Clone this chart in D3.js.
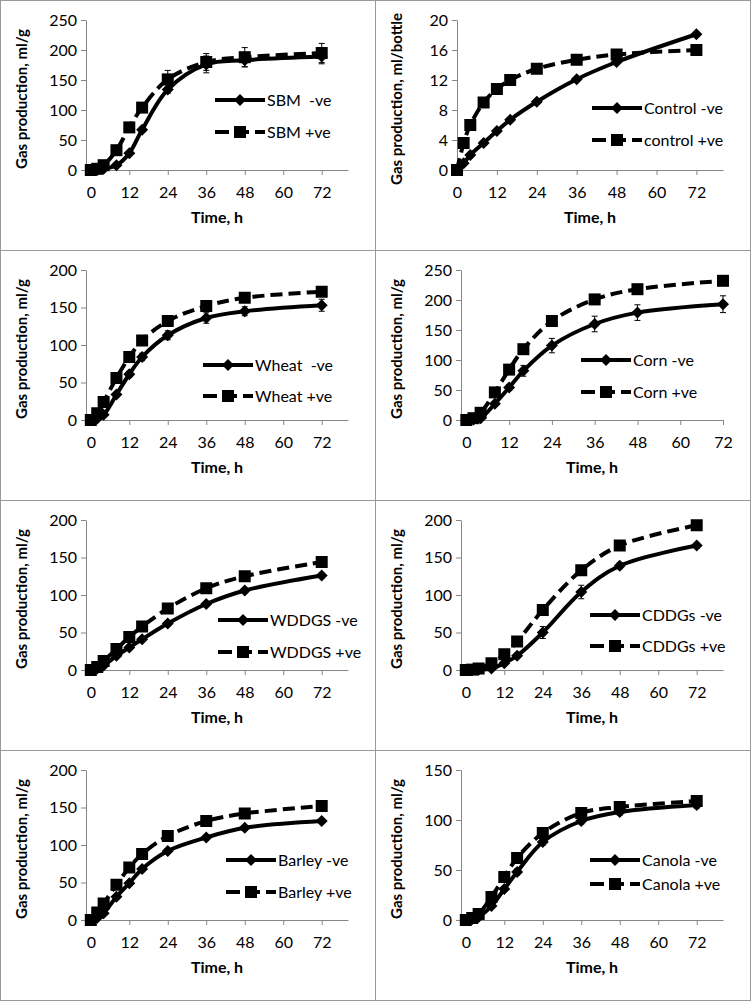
<!DOCTYPE html>
<html>
<head>
<meta charset="utf-8">
<script src="https://cdn.jsdelivr.net/npm/d3@7"></script>
<style>
  body { margin: 0; background: #fff; }
  svg text { font-family: Lato, "Open Sans", sans-serif; fill: #000; }
</style>
</head>
<body>
<svg id="chart" width="751" height="1001"></svg>
<script>
// sampling times (h) and axis ticks
const hours = [0, 2, 4, 8, 12, 16, 24, 36, 48, 72];
const xTicks = [0, 12, 24, 36, 48, 60, 72];

// soybean meal
const sbmNeg = [0, 0, 2, 8, 28, 67, 134, 176, 183, 189];
const sbmPos = [0, 2, 8, 33, 71, 104, 151, 180, 188, 195];
const sbmNegErr = [0, 0, 0, 1, 3, 4, 6, 14, 11, 12];
const sbmPosErr = [0, 0, 1, 3, 5, 6, 15, 14, 16, 16];

// control, ml/bottle
const controlNeg = [0, 0.9, 2.0, 3.6, 5.2, 6.7, 9.1, 12.1, 14.4, 18.1];
const controlPos = [0, 3.6, 6.0, 9.0, 10.8, 12.0, 13.5, 14.7, 15.4, 16.0];
const controlNegErr = [0, 0, 0, 0, 0, 0, 0, 0, 0, 0];
const controlPosErr = [0, 0, 0, 0, 0, 0, 0, 0, 0, 0];

// wheat
const wheatNeg = [0, 2, 7, 34, 61, 84, 113, 136, 145, 153];
const wheatPos = [0, 9, 24, 56, 84, 106, 132, 152, 163, 171];
const wheatNegErr = [0, 0, 1, 3, 4, 5, 6, 7, 6, 8];
const wheatPosErr = [0, 0, 1, 2, 3, 3, 4, 4, 4, 5];

// corn
const cornNeg = [0, 1, 3, 27, 54, 82, 124, 160, 179, 193];
const cornPos = [0, 3, 12, 46, 84, 118, 165, 201, 218, 232];
const cornNegErr = [0, 0, 1, 3, 5, 9, 12, 13, 13, 14];
const cornPosErr = [0, 0, 1, 3, 4, 4, 5, 5, 4, 5];

// wheat DDGS
const wddgsNeg = [0, 2, 6, 19, 30, 41, 62, 88, 106, 126];
const wddgsPos = [0, 4, 12, 28, 44, 58, 82, 109, 125, 144];
const wddgsNegErr = [0, 0, 1, 2, 2, 3, 3, 3, 3, 3];
const wddgsPosErr = [0, 0, 1, 2, 2, 3, 3, 3, 3, 3];

// corn DDGS
const cddgsNeg = [0, 0, 0.5, 2, 9, 19, 50, 104, 139, 166];
const cddgsPos = [0, 0.5, 2, 9, 21, 38, 80, 133, 166, 193];
const cddgsNegErr = [0, 0, 0, 1, 2, 3, 8, 9, 4, 3];
const cddgsPosErr = [0, 0, 0, 1, 2, 3, 4, 4, 4, 4];

// barley
const barleyNeg = [0, 3, 9, 31, 49, 68, 92, 110, 123, 132];
const barleyPos = [0, 10, 22, 47, 70, 88, 112, 132, 142, 152];
const barleyNegErr = [0, 0, 1, 2, 3, 3, 3, 3, 3, 3];
const barleyPosErr = [0, 0, 1, 2, 3, 3, 3, 3, 3, 3];

// canola
const canolaNeg = [0, 1, 3, 14, 31, 48, 78, 99, 108, 115];
const canolaPos = [0, 2, 6, 23, 43, 62, 87, 107, 113, 119];
const canolaNegErr = [0, 0, 1, 2, 2, 3, 3, 3, 3, 3];
const canolaPosErr = [0, 0, 1, 2, 2, 3, 3, 3, 3, 3];

// panel text and y ticks
const negLabels = ["SBM  -ve", "Control -ve", "Wheat  -ve", "Corn -ve", "WDDGS -ve", "CDDGs -ve", "Barley -ve", "Canola -ve"];
const posLabels = ["SBM +ve", "control +ve", "Wheat +ve", "Corn +ve", "WDDGS +ve", "CDDGs +ve", "Barley +ve", "Canola +ve"];
const yTitles = ["Gas production, ml/g", "Gas production, ml/bottle", "Gas production, ml/g", "Gas production, ml/g",
                 "Gas production, ml/g", "Gas production, ml/g", "Gas production, ml/g", "Gas production, ml/g"];
const yTicksList = [
  [0, 50, 100, 150, 200, 250],
  [0, 4, 8, 12, 16, 20],
  [0, 50, 100, 150, 200],
  [0, 50, 100, 150, 200, 250],
  [0, 50, 100, 150, 200],
  [0, 50, 100, 150, 200],
  [0, 50, 100, 150, 200],
  [0, 50, 100, 150]
];
const negSeries = [sbmNeg, controlNeg, wheatNeg, cornNeg, wddgsNeg, cddgsNeg, barleyNeg, canolaNeg];
const posSeries = [sbmPos, controlPos, wheatPos, cornPos, wddgsPos, cddgsPos, barleyPos, canolaPos];
const negErrs = [sbmNegErr, controlNegErr, wheatNegErr, cornNegErr, wddgsNegErr, cddgsNegErr, barleyNegErr, canolaNegErr];
const posErrs = [sbmPosErr, controlPosErr, wheatPosErr, cornPosErr, wddgsPosErr, cddgsPosErr, barleyPosErr, canolaPosErr];

// layout: x domain, y-axis left edge, legend left / rows
const layout = [
  {xDom: [-1.5, 80.2], left: 86, lx: 215, ly: [100, 132]},
  {xDom: [0, 80],      left: 82, lx: 217, ly: [108, 140]},
  {xDom: [-1.5, 80.2], left: 86, lx: 203, ly: [115, 146]},
  {xDom: [-1.5, 72],   left: 86, lx: 206, ly: [110, 142]},
  {xDom: [-1.5, 80.2], left: 86, lx: 218, ly: [120, 152]},
  {xDom: [-1.5, 80.2], left: 86, lx: 215, ly: [115, 146]},
  {xDom: [-1.5, 80.2], left: 86, lx: 226, ly: [110, 142]},
  {xDom: [-1.5, 80.2], left: 86, lx: 215, ly: [110, 134]}
];

const svg = d3.select("#chart");
const W = 375, H = 250;
const plotTop = 20, plotBottom = 170, plotRight = 348;
const axisGray = "#868686";

const diamond = r => `M0,${-r}L${r},0L0,${r}L${-r},0Z`;

function drawMarker(sel, kind) {
  if (kind === "neg") {
    sel.append("path").attr("d", diamond(6)).attr("fill", "#000");
  } else {
    sel.append("rect").attr("x", -6).attr("y", -6).attr("width", 12).attr("height", 12).attr("fill", "#000");
  }
}

function drawPanel(i) {
  const col = i % 2, row = Math.floor(i / 2);
  const L = layout[i];
  const yTicks = yTicksList[i];
  const g = svg.append("g").attr("transform", `translate(${col * W},${row * H})`);

  const x = d3.scaleLinear().domain(L.xDom).range([L.left, plotRight]);
  const y = d3.scaleLinear().domain([0, d3.max(yTicks)]).range([plotBottom, plotTop]);

  // axes
  const yAxis = g.append("g").attr("transform", `translate(${L.left},0)`)
    .call(d3.axisLeft(y).tickValues(yTicks).tickSize(5).tickSizeOuter(0).tickPadding(4));
  const xAxis = g.append("g").attr("transform", `translate(0,${plotBottom})`)
    .call(d3.axisBottom(x).tickValues(xTicks).tickSize(5).tickSizeOuter(0).tickPadding(12));
  [xAxis, yAxis].forEach(a => {
    a.select(".domain").attr("stroke", axisGray);
    a.selectAll(".tick line").attr("stroke", axisGray);
    a.selectAll(".tick text").attr("font-size", 16).style("font-family", "Lato, sans-serif").attr("fill", "#000");
  });

  // axis titles
  g.append("text")
    .attr("transform", `translate(27,${(plotTop + plotBottom) / 2 + 4}) rotate(-90)`)
    .attr("text-anchor", "middle")
    .attr("font-size", 15).attr("font-weight", "bold")
    .text(yTitles[i]);
  g.append("text")
    .attr("x", (L.left + plotRight) / 2).attr("y", 223)
    .attr("text-anchor", "middle")
    .attr("font-size", 16).attr("font-weight", "bold")
    .text("Time, h");

  const line = d3.line()
    .x((d, k) => x(hours[k]))
    .y(d => y(d))
    .curve(d3.curveCatmullRom.alpha(0.5));

  const series = [
    {vals: negSeries[i], errs: negErrs[i], kind: "neg", dash: null, label: negLabels[i]},
    {vals: posSeries[i], errs: posErrs[i], kind: "pos", dash: "12,6", label: posLabels[i]}
  ];

  series.forEach((s, si) => {
    g.append("path")
      .datum(s.vals)
      .attr("d", line)
      .attr("fill", "none")
      .attr("stroke", "#000")
      .attr("stroke-width", 4)
      .attr("stroke-dasharray", s.dash);

    // error bars
    const eb = g.append("g");
    s.vals.forEach((v, k) => {
      const e = s.errs[k];
      if (!e) return;
      const cx = x(hours[k]);
      eb.append("line").attr("x1", cx).attr("x2", cx).attr("y1", y(v - e)).attr("y2", y(v + e))
        .attr("stroke", "#000").attr("stroke-width", 1);
      [v - e, v + e].forEach(t => {
        eb.append("line").attr("x1", cx - 3).attr("x2", cx + 3).attr("y1", y(t)).attr("y2", y(t))
          .attr("stroke", "#000").attr("stroke-width", 1);
      });
    });

    // markers
    s.vals.forEach((v, k) => {
      const m = g.append("g").attr("transform", `translate(${x(hours[k])},${y(v)})`);
      drawMarker(m, s.kind);
    });

    // legend entry
    const ly = L.ly[si];
    g.append("line")
      .attr("x1", L.lx).attr("x2", L.lx + 50).attr("y1", ly).attr("y2", ly)
      .attr("stroke", "#000").attr("stroke-width", 4)
      .attr("stroke-dasharray", s.kind === "pos" ? "14,6" : null);
    drawMarker(g.append("g").attr("transform", `translate(${L.lx + 25},${ly})`), s.kind);
    g.append("text")
      .attr("x", L.lx + 52).attr("y", ly).attr("dy", "0.35em")
      .attr("font-size", 16)
      .style("white-space", "pre")
      .text(s.label);
  });
}

for (let i = 0; i < 8; i++) drawPanel(i);

// panel frame grid
const gridX = [0.5, 375.5, 750.5];
const gridY = [0.5, 250.5, 500.5, 750.5, 1000.5];
gridX.forEach(gx => svg.append("line").attr("x1", gx).attr("x2", gx).attr("y1", 0).attr("y2", 1001)
  .attr("stroke", "#9a9a9a").attr("stroke-width", 1));
gridY.forEach(gy => svg.append("line").attr("x1", 0).attr("x2", 751).attr("y1", gy).attr("y2", gy)
  .attr("stroke", "#9a9a9a").attr("stroke-width", 1));
</script>
</body>
</html>
